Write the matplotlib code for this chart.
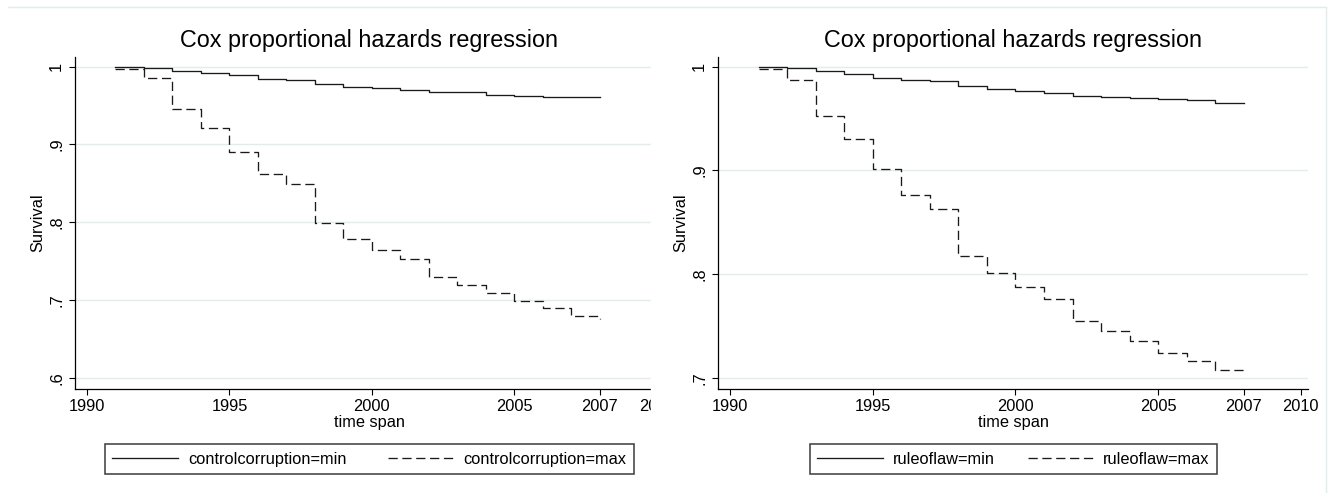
import matplotlib
matplotlib.use("Agg")
import matplotlib.pyplot as plt
from matplotlib.lines import Line2D
from matplotlib.patches import Rectangle
from matplotlib.transforms import Bbox, TransformedBbox

plt.rcParams['font.family'] = ['Liberation Sans', 'DejaVu Sans']

# survival estimates, one step per year (last entry = value at the end point)
years = [1991, 1992, 1993, 1994, 1995, 1996, 1997, 1998, 1999,
         2000, 2001, 2002, 2003, 2004, 2005, 2006, 2007, 2008]
cc_min = [1.0, 0.9987, 0.9945, 0.992, 0.9893, 0.9846, 0.983, 0.978, 0.9744,
          0.972, 0.9705, 0.967, 0.967, 0.964, 0.9623, 0.961, 0.9606, 0.9606]
cc_max = [0.9975, 0.986, 0.946, 0.9205, 0.890, 0.862, 0.8487, 0.7992, 0.779,
          0.7638, 0.7522, 0.729, 0.719, 0.709, 0.6983, 0.6893, 0.6795, 0.675]
rl_min = [1.0, 0.999, 0.9957, 0.9927, 0.9894, 0.9874, 0.9864, 0.981, 0.9787,
          0.9766, 0.975, 0.9718, 0.9705, 0.9696, 0.9686, 0.9677, 0.9654, 0.9654]
rl_max = [0.9981, 0.9875, 0.952, 0.930, 0.9013, 0.876, 0.8632, 0.818, 0.8007,
          0.7874, 0.7762, 0.7547, 0.7454, 0.7355, 0.724, 0.7166, 0.708, 0.707]

xtick_pos = [1990, 1995, 2000, 2005, 2008, 2010]
xtick_labels = ["1990", "1995", "2000", "2005", "2007", "2010"]
cc_yticks = [0.6, 0.7, 0.8, 0.9, 1.0]
cc_ylabels = [".6", ".7", ".8", ".9", "1"]
rl_yticks = [0.7, 0.8, 0.9, 1.0]
rl_ylabels = [".7", ".8", ".9", "1"]

W, H = 1331, 493
fig = plt.figure(figsize=(W / 100, H / 100), dpi=100)
grid_col = "#e2ebee"
line_col = "#1a1a1a"
fs = 11.8


def px_rect(x0, y0, x1, y1):
    return [x0 / W, 1 - y1 / H, (x1 - x0) / W, (y1 - y0) / H]


def panel(rect, s_min, s_max, yticks, ylabels, ylim, name, leg_x0, leg_x1):
    ax = fig.add_axes(rect)
    ax.step(years, s_min, where="post", color=line_col, lw=0.95,
            label=name + "=min")
    ax.step(years, s_max, where="post", color=line_col, lw=0.95,
            dashes=(7, 3.5), label=name + "=max")
    ax.set_xlim(1989.58, 2010.25)
    ax.set_ylim(*ylim)
    ax.set_xticks(xtick_pos)
    ax.set_xticklabels(xtick_labels, fontsize=fs)
    ax.set_yticks(yticks)
    ax.set_yticklabels(ylabels, fontsize=fs, rotation=90, va="center")
    for y in yticks:
        ax.axhline(y, color=grid_col, lw=1.0, zorder=0)
    for s in ["top", "right"]:
        ax.spines[s].set_visible(False)
    for s in ["left", "bottom"]:
        ax.spines[s].set_linewidth(0.9)
    ax.tick_params(axis="both", length=4.3, width=0.8, direction="out")
    ax.tick_params(axis="x", pad=3)
    ax.tick_params(axis="y", pad=3.5)
    ax.set_title("Cox proportional hazards regression", fontsize=16.8, pad=6.8)
    ax.set_xlabel("time span", fontsize=fs, labelpad=0.5)
    ax.set_ylabel("Survival", fontsize=fs, labelpad=3)
    top = 1 - 444.3 / H
    bot = 1 - 475.5 / H
    leg = ax.legend(loc="upper left",
                    bbox_to_anchor=(leg_x0 / W, bot, (leg_x1 - leg_x0) / W, top - bot),
                    bbox_transform=fig.transFigure, ncol=2, fontsize=fs,
                    mode="expand", handlelength=4.0, handletextpad=0.6,
                    borderpad=0.45, borderaxespad=0, fancybox=False,
                    framealpha=1, edgecolor="#3a3a3a")
    leg.get_frame().set_linewidth(1.1)
    return ax


ax1 = panel(px_rect(75, 56.7, 664, 389), cc_min, cc_max, cc_yticks, cc_ylabels,
            (0.5855, 1.0128), "controlcorruption", 105, 634)
panel(px_rect(718, 56.7, 1308, 389), rl_min, rl_max, rl_yticks, rl_ylabels,
      (0.6894, 1.0096), "ruleoflaw", 810, 1217)

# left graph is cut off on its right side
cut = TransformedBbox(Bbox([[0, 0], [651 / W, 1]]), fig.transFigure)
for lab in ax1.get_xticklabels():
    lab.set_clip_on(True)
    lab.set_clip_box(cut)
fig.add_artist(Rectangle((651 / W, 0), (668 - 651) / W, 1 - 15 / H,
                         transform=fig.transFigure, color="white", zorder=10))
# faint outer frame
fig.add_artist(Line2D([8 / W, 1326 / W], [1 - 7 / H, 1 - 7 / H],
                      transform=fig.transFigure, color=grid_col, lw=1))
fig.add_artist(Line2D([1326 / W, 1326 / W], [0, 1 - 7 / H],
                      transform=fig.transFigure, color=grid_col, lw=1))

fig.savefig("out.png", dpi=100)
